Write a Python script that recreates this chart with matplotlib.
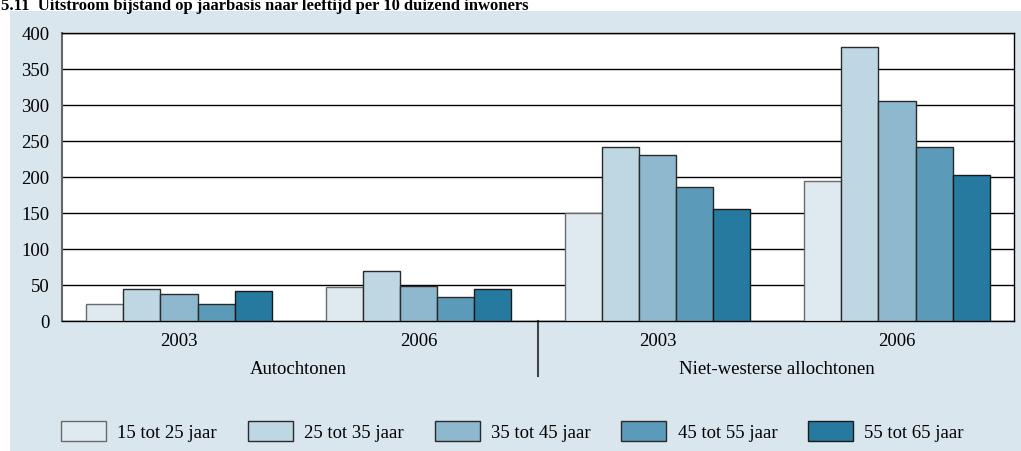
import matplotlib.pyplot as plt
import matplotlib.patches as mpatches
from matplotlib.transforms import blended_transform_factory
import numpy as np

plt.rcParams['font.family'] = ['Liberation Serif', 'DejaVu Serif']

# Data
title = "5.11  Uitstroom bijstand op jaarbasis naar leeftijd per 10 duizend inwoners"
groups = ["Autochtonen", "Niet-westerse allochtonen"]
years = ["2003", "2006", "2003", "2006"]
age_classes = ["15 tot 25 jaar", "25 tot 35 jaar", "35 tot 45 jaar",
               "45 tot 55 jaar", "55 tot 65 jaar"]
values = {
    "15 tot 25 jaar": [24, 47, 150, 195],
    "25 tot 35 jaar": [45, 69, 242, 380],
    "35 tot 45 jaar": [38, 48, 230, 305],
    "45 tot 55 jaar": [24, 33, 186, 241],
    "55 tot 65 jaar": [42, 44, 155, 203],
}
colors = ["#dfe9f0", "#bfd7e3", "#8db8ce", "#5b9ab8", "#267a9f"]
edges = ["#6a6a6a", "#2a2a2a", "#2a2a2a", "#2a2a2a", "#1a1a1a"]
yticks = [0, 50, 100, 150, 200, 250, 300, 350, 400]

FS = 13.5
W, H = 1021, 451
fig = plt.figure(figsize=(W / 100, H / 100), dpi=100)
fig.patch.set_facecolor("white")

# Light blue panel behind the chart
panel = mpatches.Rectangle((10 / W, 0), 1 - 10 / W, 1 - 11 / H,
                           transform=fig.transFigure, facecolor="#d9e6ee",
                           edgecolor="none", zorder=-5)
fig.patches.append(panel)

fig.text(1 / W, 1 - 10 / H, title, fontsize=12, fontweight="bold",
         ha="left", va="baseline")

ax = fig.add_axes([62 / W, 1 - 321 / H, (1014 - 62) / W, (321 - 33) / H])
ax.set_zorder(2)
ax.set_facecolor("white")

x = np.arange(len(years))
bw = 0.155
for i, (age, c, ec) in enumerate(zip(age_classes, colors, edges)):
    offs = (i - 2) * bw
    ax.bar(x + offs, values[age], width=bw, color=c, edgecolor=ec,
           linewidth=1.0, label=age, zorder=3)

ax.set_xlim(-0.489, 3.489)
ax.set_ylim(0, 400)
ax.set_yticks(yticks)
ax.yaxis.grid(True, color="black", linewidth=1.0, zorder=1)
ax.set_axisbelow(True)
ax.tick_params(axis="y", length=0, pad=9, labelsize=FS)
ax.set_xticks([])
for s in ["top", "right", "bottom"]:
    ax.spines[s].set_color("black")
    ax.spines[s].set_linewidth(1.0)
ax.spines["left"].set_color("#666666")
ax.spines["left"].set_linewidth(1.5)

# Year and population-group labels under the axis
tr = blended_transform_factory(ax.transData, fig.transFigure)
for xi, yr in zip(x, years):
    ax.text(xi, 1 - 341 / H, yr, transform=tr, ha="center", va="center",
            fontsize=FS)
for gi, g in enumerate(groups):
    ax.text(2 * gi + 0.5, 1 - 369 / H, g, transform=tr, ha="center",
            va="center", fontsize=FS)
ax.plot([1.5, 1.5], [1 - 321 / H, 1 - 376 / H], transform=tr,
        color="#444444", linewidth=1.5, clip_on=False)

handles, labels = ax.get_legend_handles_labels()
leg = fig.legend(handles, labels, loc="center left",
                 bbox_to_anchor=(61 / W, 1 - 431.5 / H),
                 ncol=5, frameon=False, fontsize=FS,
                 handlelength=2.4, handleheight=1.25, handletextpad=0.6,
                 columnspacing=1.65, borderaxespad=0, borderpad=0)

fig.savefig("out.png", dpi=100, facecolor=fig.get_facecolor())
